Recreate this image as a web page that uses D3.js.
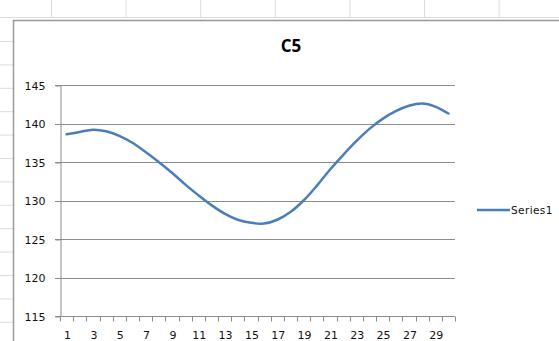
<!DOCTYPE html>
<html lang="en">
<head>
<meta charset="utf-8">
<title>C5</title>
<script src="https://cdn.jsdelivr.net/npm/d3@7"></script>
<style>
  body { margin: 0; background: #fff; }
  svg { display: block; }
</style>
</head>
<body>
<script>
// chart data
var categories = d3.range(1, 31);
var series1 = [138.6, 138.9, 139.2, 139.0, 138.4, 137.5, 136.3, 135.0, 133.6, 132.1,
               130.7, 129.4, 128.3, 127.5, 127.1, 127.0, 127.5, 128.5, 130.0, 131.9,
               134.0, 135.9, 137.7, 139.3, 140.6, 141.6, 142.3, 142.6, 142.2, 141.3];
var yTicks = [115, 120, 125, 130, 135, 140, 145];
var seriesName = "Series1";
var title = "C5";

var width = 559, height = 341;
var svg = d3.select("body").append("svg")
  .attr("width", width)
  .attr("height", height);

// spreadsheet cells behind the chart
var sheet = svg.append("g").attr("stroke", "#dcdcdc").attr("stroke-width", 1);
for (var cx = 51.5; cx < width; cx += 74.6) {
  sheet.append("line").attr("x1", cx).attr("x2", cx).attr("y1", 0).attr("y2", 17.5);
}
sheet.append("line").attr("x1", 0).attr("x2", width).attr("y1", 17.5).attr("y2", 17.5);
for (var ry = 41.5; ry < height; ry += 23.4) {
  sheet.append("line").attr("x1", 0).attr("x2", 13).attr("y1", ry).attr("y2", ry);
}

// chart frame
svg.append("rect")
  .attr("x", 13.5).attr("y", 20.5)
  .attr("width", 600).attr("height", 400)
  .attr("fill", "#fff")
  .attr("stroke", "#9a9a9a")
  .attr("stroke-width", 1.5);

// title
svg.append("text")
  .attr("x", 291).attr("y", 52)
  .attr("text-anchor", "middle")
  .style("font-family", "'Open Sans', 'DejaVu Sans', sans-serif")
  .style("font-weight", "bold")
  .style("font-size", "17px")
  .text(title);

var plot = {left: 60, right: 455, top: 85, bottom: 316};

var x = d3.scaleBand().domain(categories).range([plot.left, plot.right]).padding(0);
var y = d3.scaleLinear().domain([115, 145]).range([plot.bottom, plot.top]);

var labelFont = "'DejaVu Sans', Verdana, sans-serif";

// horizontal gridlines
svg.append("g")
  .selectAll("line")
  .data(yTicks)
  .join("line")
  .attr("x1", plot.left - 5).attr("x2", plot.right)
  .attr("y1", function(d) { return Math.round(y(d)) + 0.5; })
  .attr("y2", function(d) { return Math.round(y(d)) + 0.5; })
  .attr("stroke", "#8c8c8c")
  .attr("stroke-width", 1);

// y axis
var yAxis = svg.append("g")
  .attr("transform", "translate(" + (plot.left + 0.5) + ",0.5)")
  .call(d3.axisLeft(y).tickValues(yTicks).tickSize(5).tickSizeOuter(0));
yAxis.select(".domain").attr("stroke", "#8c8c8c");
yAxis.selectAll(".tick line").attr("stroke", "#8c8c8c");
yAxis.selectAll(".tick text")
  .attr("x", -15)
  .style("font-family", labelFont)
  .style("font-size", "11px")
  .attr("fill", "#111");

// x axis: ticks at category boundaries, labels on odd categories
var xg = svg.append("g").attr("transform", "translate(0," + (plot.bottom + 0.5) + ")");
xg.append("line")
  .attr("x1", plot.left).attr("x2", plot.right)
  .attr("stroke", "#8c8c8c");
xg.selectAll(".tk")
  .data(categories.concat([categories.length + 1]))
  .join("line")
  .attr("class", "tk")
  .attr("x1", function(d) { return Math.round(plot.left + (d - 1) * x.bandwidth()) + 0.5; })
  .attr("x2", function(d) { return Math.round(plot.left + (d - 1) * x.bandwidth()) + 0.5; })
  .attr("y1", 0).attr("y2", 5)
  .attr("stroke", "#8c8c8c");
xg.selectAll("text")
  .data(categories.filter(function(d) { return d % 2 === 1; }))
  .join("text")
  .attr("x", function(d) { return x(d) + x.bandwidth() / 2 + 1; })
  .attr("y", 22)
  .attr("text-anchor", "middle")
  .style("font-family", labelFont)
  .style("font-size", "11px")
  .attr("fill", "#111")
  .text(function(d) { return d; });

// series line
var line = d3.line()
  .x(function(d, i) { return x(categories[i]) + x.bandwidth() / 2; })
  .y(function(d) { return y(d); })
  .curve(d3.curveCatmullRom);

svg.append("path")
  .datum(series1)
  .attr("d", line)
  .attr("fill", "none")
  .attr("stroke", "#4a7ebb")
  .attr("stroke-width", 2.5)
  .attr("stroke-linecap", "round");

// legend
var legend = svg.append("g").attr("transform", "translate(477,210)");
legend.append("line")
  .attr("x1", 0).attr("x2", 33)
  .attr("stroke", "#4a7ebb")
  .attr("stroke-width", 2.5);
legend.append("text")
  .attr("x", 34).attr("y", 4)
  .style("font-family", labelFont)
  .style("font-size", "10.5px")
  .style("letter-spacing", "0.4px")
  .attr("fill", "#111")
  .text(seriesName);
</script>
</body>
</html>
